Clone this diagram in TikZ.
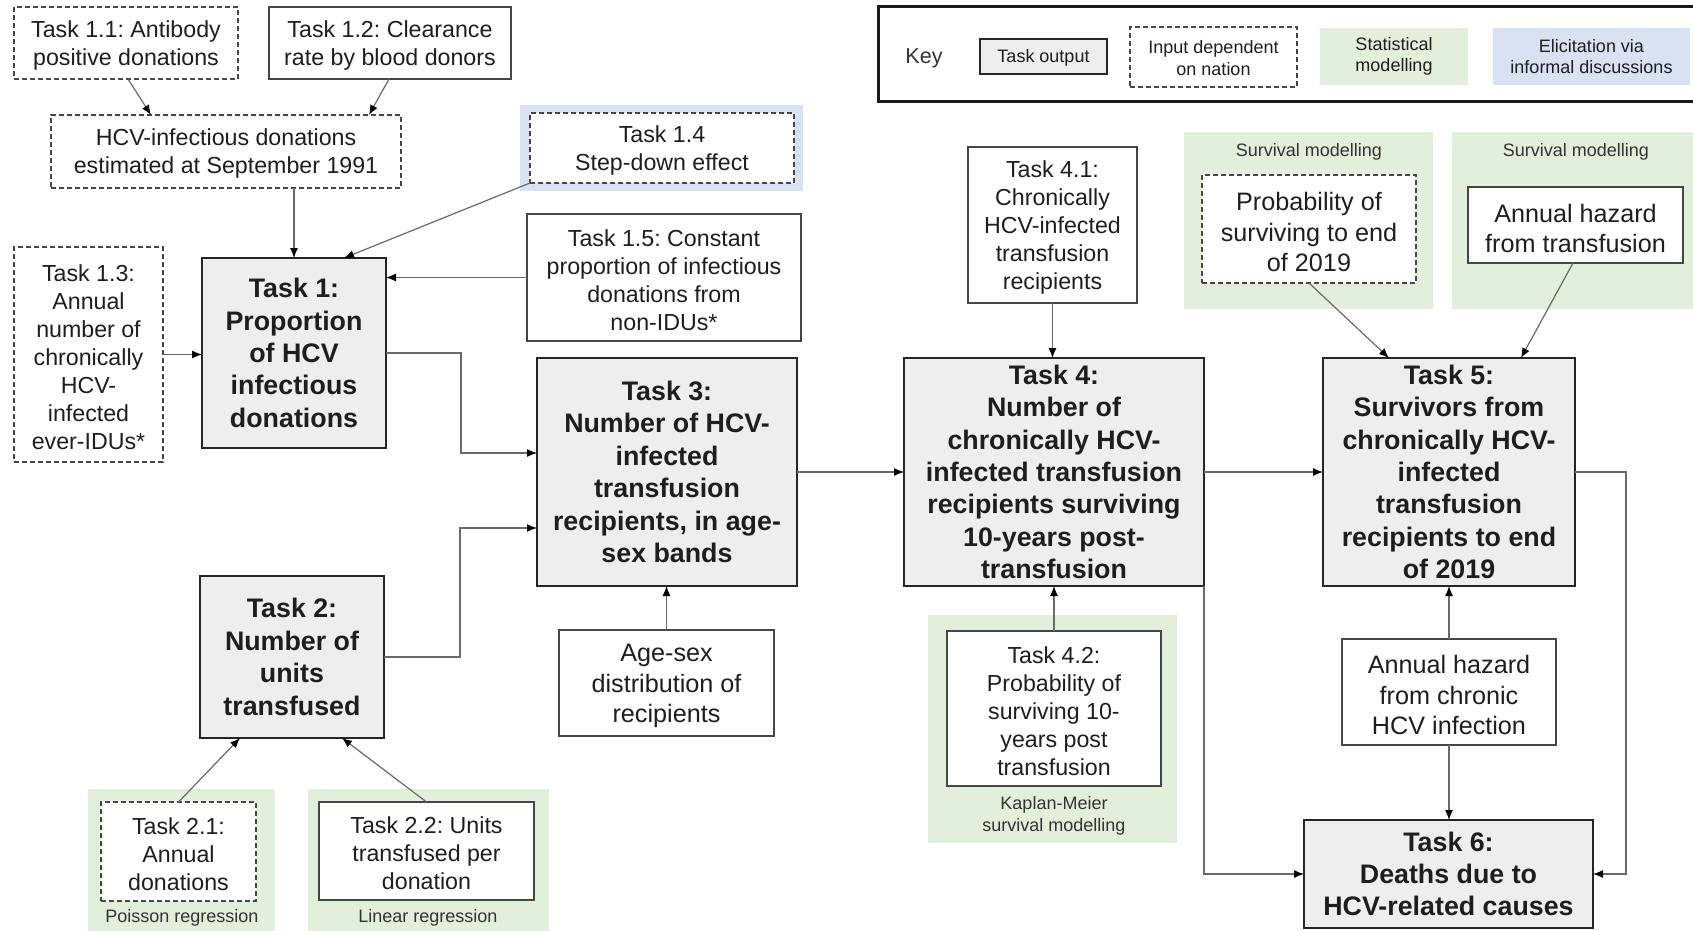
\documentclass[tikz,border=0pt]{standalone}
\usepackage{fontspec}
\setmainfont{Liberation Sans}
\usetikzlibrary{arrows.meta,calc}
\frenchspacing
\definecolor{gfill}{RGB}{226,239,218}
\definecolor{bfill}{RGB}{216,226,243}
\definecolor{tfill}{RGB}{238,238,238}
\definecolor{ink}{RGB}{30,30,30}
\definecolor{edge}{RGB}{70,70,70}
\definecolor{wire}{RGB}{105,105,105}
\tikzset{txs/.style={}}
\newcommand{\bx}[7]{%
  \node[#2, minimum width={(#5-#3)*0.5pt}, minimum height={(#6-#4)*0.5pt}] (#1) at ({(#3+#5)/2},{(#4+#6)/2}) {};%
  \node[#2, draw=none, fill=none, minimum width=0pt, minimum height=0pt, txs] (#1t) at (#1.center) {#7};}
\begin{document}
\begin{tikzpicture}[x=0.5pt,y=-0.5pt,
 base/.style={inner sep=0pt, outer sep=0pt, align=center, text=ink},
 taskbox/.style={base, draw=black!85, line width=1.2pt, fill=tfill, font=\fontsize{13.4}{16.2}\selectfont\bfseries},
 inbox/.style={base, draw=edge, line width=0.7pt, fill=white, font=\fontsize{11.6}{14}\selectfont, txs/.style={yshift=-1.2pt}},
 bigbox/.style={inbox, font=\fontsize{12.6}{15.2}\selectfont, txs/.style={yshift=-1.6pt}},
 dashbox/.style={inbox, dash pattern=on 2.5pt off 1.5pt},
 gbg/.style={base, fill=gfill},
 bbg/.style={base, fill=bfill},
 lbl/.style={base, font=\fontsize{9}{10.8}\selectfont, text=black!80},
 arr/.style={draw=wire, line width=0.6pt, -{Latex[length=5pt,width=4pt,color=black]}},
]
\useasboundingbox (0,0) rectangle (1693,931);
% key
\bx{key}{base, draw=black!90, line width=1.5pt}{878}{7}{1730}{102}{}
\node[lbl, font=\fontsize{10.8}{13}\selectfont] (keylbl) at (924,58) {Key};
\bx{ktask}{taskbox, font=\fontsize{9}{10.8}\selectfont, txs/.style={yshift=-0.6pt}}{980}{39}{1107}{74}{Task output}
\bx{kinput}{dashbox, font=\fontsize{9}{10.8}\selectfont, txs/.style={yshift=-0.4pt}}{1130}{27}{1297}{87}{Input dependent\\on nation}
\bx{kstat}{gbg, font=\fontsize{9}{10.8}\selectfont}{1320}{28}{1468}{85}{Statistical\\modelling}
\bx{kelic}{bbg, font=\fontsize{9}{10.8}\selectfont}{1493}{28}{1690}{85}{Elicitation via\\informal discussions}
% backgrounds
\bx{bg14}{bbg}{520}{105}{803}{191}{}
\bx{bg21}{gbg}{88}{789}{275}{940}{}
\bx{bg22}{gbg}{308}{789}{549}{940}{}
\bx{bg5a}{gbg}{1184}{132}{1433}{309}{}
\bx{bg5b}{gbg}{1452}{132}{1730}{309}{}
\bx{bg42}{gbg}{928}{615}{1177}{843}{}
\node[lbl] (l21) at (182,918) {Poisson regression};
\node[lbl] (l22) at (428,918) {Linear regression};
\node[lbl] (l5a) at (1309,152) {Survival modelling};
\node[lbl] (l5b) at (1576,152) {Survival modelling};
\node[lbl] (l42) at (1054,816) {Kaplan-Meier\\survival modelling};
% input boxes
\bx{T11}{dashbox}{14}{7}{238}{79}{Task 1.1: Antibody\\positive donations}
\bx{T12}{inbox}{269}{7}{511}{79}{Task 1.2: Clearance\\rate by blood donors}
\bx{HCV}{dashbox}{51}{115}{401}{188}{HCV-infectious donations\\estimated at September 1991}
\bx{T14}{dashbox}{530}{113}{794}{183}{Task 1.4\\Step-down effect}
\bx{T15}{inbox}{527}{214}{801}{341}{Task 1.5: Constant\\proportion of infectious\\donations from\\non-IDUs*}
\bx{T13}{dashbox}{14}{247}{163}{462}{Task 1.3:\\Annual\\number of\\chronically\\HCV-\\infected\\ever-IDUs*}
\bx{Age}{bigbox}{559}{630}{774}{736}{Age-sex\\distribution of\\recipients}
\bx{T21}{dashbox}{101}{802}{256}{901}{Task 2.1:\\Annual\\donations}
\bx{T22}{inbox}{319}{802}{534}{900}{Task 2.2: Units\\transfused per\\donation}
\bx{T41}{inbox}{968}{147}{1137}{303}{Task 4.1:\\Chronically\\HCV-infected\\transfusion\\recipients}
\bx{Prob}{bigbox, dash pattern=on 2.5pt off 1.5pt}{1202}{175}{1416}{283}{Probability of\\surviving to end\\of 2019}
\bx{AH}{bigbox}{1468}{187}{1683}{263}{Annual hazard\\from transfusion}
\bx{T42}{inbox}{947}{631}{1161}{786}{Task 4.2:\\Probability of\\surviving 10-\\years post\\transfusion}
\bx{AHC}{bigbox}{1342}{639}{1556}{745}{Annual hazard\\from chronic\\HCV infection}
% task boxes
\bx{T1}{taskbox}{202}{258}{386}{448}{Task 1:\\Proportion\\of HCV\\infectious\\donations}
\bx{T2}{taskbox}{200}{576}{384}{738}{Task 2:\\Number of\\units\\transfused}
\bx{T3}{taskbox}{537}{358}{797}{586}{Task 3:\\Number of HCV-\\infected\\transfusion\\recipients, in age-\\sex bands}
\bx{T4}{taskbox}{904}{358}{1204}{586}{Task 4:\\Number of\\chronically HCV-\\infected transfusion\\recipients surviving\\10-years post-\\transfusion}
\bx{T5}{taskbox}{1323}{358}{1575}{586}{Task 5:\\Survivors from\\chronically HCV-\\infected\\transfusion\\recipients to end\\of 2019}
\bx{T6}{taskbox}{1304}{820}{1593}{928}{Task 6:\\Deaths due to\\HCV-related causes}
% connectors
\draw[arr] ($(T11.south)+(2,0)$) -- ($(HCV.north west)+(100,0)$);
\draw[arr] ($(T12.south west)+(120,0)$) -- ($(HCV.north west)+(318,0)$);
\draw[arr] (HCV.south -| T1.north) -- (T1.north);
\draw[arr] (T14.south west) -- ($(T1.north west)+(142,0)$);
\draw[arr] (T15.west) -- (T15.west -| T1.east);
\draw[arr] (T13.east) -- (T13.east -| T1.west);
\draw[arr] (T1.east) -- ($(T1.east)+(75,0)$) |- ($(T3.north west)+(0,95)$);
\draw[arr] (T2.east) -- ($(T2.east)+(76,0)$) |- ($(T3.north west)+(0,170)$);
\draw[arr] (Age.north) -- (Age.north |- T3.south);
\draw[arr] (T21.north) -- ($(T2.south west)+(40,0)$);
\draw[arr] (T22.north) -- ($(T2.south west)+(142,0)$);
\draw[arr] (T3.east) -- (T3.east -| T4.west);
\draw[arr] (T41.south) -- (T41.south |- T4.north);
\draw[arr] (T4.east) -- (T4.east -| T5.west);
\draw[arr] (Prob.south) -- ($(T5.north west)+(66,0)$);
\draw[arr] ($(AH.south west)+(105,0)$) -- ($(T5.north west)+(198,0)$);
\draw[arr] (T42.north) -- (T42.north |- T4.south);
\draw[arr] (AHC.north) -- (AHC.north |- T5.south);
\draw[arr] (AHC.south) -- (AHC.south |- T6.north);
\draw[arr] (T4.south east) |- (T6.west);
\draw[arr] (T5.east) -- ($(T5.east)+(51,0)$) |- (T6.east);
\end{tikzpicture}
\end{document}
